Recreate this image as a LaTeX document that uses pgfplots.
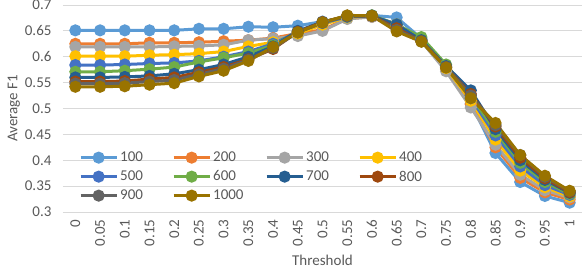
\documentclass[border=0pt]{standalone}
\usepackage{pgfplots}
\pgfplotsset{compat=1.18}
\usepackage{pgfplotstable}
\usepackage{fontspec}
\setmainfont{Carlito}
\definecolor{c100}{HTML}{5B9BD5}
\definecolor{c200}{HTML}{ED7D31}
\definecolor{c300}{HTML}{A5A5A5}
\definecolor{c400}{HTML}{FFC000}
\definecolor{c500}{HTML}{4472C4}
\definecolor{c600}{HTML}{70AD47}
\definecolor{c700}{HTML}{255E91}
\definecolor{c800}{HTML}{9E480E}
\definecolor{c900}{HTML}{636363}
\definecolor{c1000}{HTML}{997300}
\definecolor{txt}{HTML}{595959}
\definecolor{grd}{HTML}{D9D9D9}
\pgfplotstableread{
i  s100  s200  s300  s400  s500  s600  s700  s800  s900  s1000
0  0.651 0.625 0.619 0.601 0.584 0.571 0.560 0.552 0.548 0.542
1  0.651 0.625 0.619 0.601 0.584 0.571 0.560 0.552 0.548 0.542
2  0.651 0.625 0.619 0.601 0.585 0.573 0.561 0.553 0.549 0.543
3  0.651 0.627 0.619 0.603 0.587 0.576 0.563 0.557 0.552 0.546
4  0.651 0.627 0.620 0.604 0.588 0.580 0.567 0.560 0.555 0.549
5  0.654 0.628 0.621 0.606 0.592 0.590 0.575 0.570 0.566 0.562
6  0.654 0.630 0.623 0.610 0.600 0.598 0.585 0.580 0.577 0.573
7  0.658 0.632 0.632 0.620 0.610 0.607 0.600 0.595 0.594 0.592
8  0.657 0.636 0.635 0.628 0.625 0.622 0.620 0.615 0.617 0.619
9  0.660 0.645 0.640 0.645 0.648 0.648 0.650 0.648 0.647 0.647
10 0.668 0.652 0.650 0.662 0.665 0.667 0.667 0.667 0.666 0.666
11 0.676 0.674 0.673 0.676 0.677 0.678 0.678 0.679 0.679 0.680
12 0.680 0.677 0.677 0.679 0.679 0.680 0.679 0.679 0.679 0.679
13 0.676 0.660 0.660 0.663 0.663 0.662 0.662 0.655 0.652 0.649
14 0.635 0.632 0.630 0.632 0.633 0.638 0.632 0.630 0.630 0.629
15 0.578 0.575 0.572 0.578 0.580 0.585 0.582 0.580 0.580 0.579
16 0.510 0.508 0.502 0.515 0.520 0.525 0.535 0.528 0.525 0.520
17 0.414 0.425 0.430 0.440 0.448 0.455 0.460 0.465 0.468 0.472
18 0.358 0.366 0.372 0.380 0.388 0.395 0.400 0.405 0.410 0.410
19 0.331 0.338 0.342 0.348 0.352 0.358 0.362 0.365 0.368 0.370
20 0.318 0.324 0.328 0.330 0.333 0.335 0.337 0.338 0.340 0.341
}\data
\begin{document}
\begin{tikzpicture}[x=1pt,y=1pt]
\begin{axis}[
  name=ax,
  scale only axis,
  width=519pt, height=207pt,
  xmin=-0.5, xmax=20.5,
  ymin=0.3, ymax=0.7,
  xtick={0,...,20},
  xticklabels={0,0.05,0.1,0.15,0.2,0.25,0.3,0.35,0.4,0.45,0.5,0.55,0.6,0.65,0.7,0.75,0.8,0.85,0.9,0.95,1},
  ytick={0.3,0.35,0.4,0.45,0.5,0.55,0.6,0.65,0.7},
  yticklabels={0.3,0.35,0.4,0.45,0.5,0.55,0.6,0.65,0.7},
  xticklabel style={rotate=90, anchor=east, font=\fontsize{15}{15}\selectfont, text=txt, xshift=-4pt},
  yticklabel style={font=\fontsize{15}{15}\selectfont, text=txt, xshift=-8pt},
  major tick length=0pt,
  ymajorgrids,
  grid style={grd, line width=1pt},
  axis line style={draw=none},
  axis x line*=bottom,
  axis y line*=left,
  xlabel={Threshold},
  ylabel={Average F1},
  xlabel style={yshift=-2pt},
  ylabel style={yshift=-2pt},
  label style={font=\fontsize{15}{15}\selectfont, text=txt},
  every axis plot/.append style={line width=3pt, mark=*, mark size=4.5pt, mark options={solid}},
  legend columns=4,
  legend style={draw=none, fill=none, at={(0.025,0.31)}, anchor=north west,
    font=\fontsize{15}{15}\selectfont, text=txt,
    /tikz/every even column/.append style={column sep=0pt},
    row sep=3.5pt},
  legend image code/.code={\draw[mark repeat=2, mark phase=2] plot coordinates {(0pt,0pt) (18pt,0pt) (36pt,0pt)};},
  clip=false,
]
\addplot[c100] table[x=i,y=s100]{\data};
\addplot[c200] table[x=i,y=s200]{\data};
\addplot[c300] table[x=i,y=s300]{\data};
\addplot[c400] table[x=i,y=s400]{\data};
\addplot[c500] table[x=i,y=s500]{\data};
\addplot[c600] table[x=i,y=s600]{\data};
\addplot[c700] table[x=i,y=s700]{\data};
\addplot[c800] table[x=i,y=s800]{\data};
\addplot[c900] table[x=i,y=s900]{\data};
\addplot[c1000] table[x=i,y=s1000]{\data};
\legend{\makebox[50pt][l]{100},\makebox[50pt][l]{200},\makebox[50pt][l]{300},\makebox[50pt][l]{400},\makebox[50pt][l]{500},\makebox[50pt][l]{600},\makebox[50pt][l]{700},\makebox[50pt][l]{800},\makebox[50pt][l]{900},\makebox[50pt][l]{1000}}
\end{axis}
\pgfresetboundingbox
\path ([xshift=-63pt,yshift=-58pt]ax.south west) rectangle ([yshift=5pt]ax.north east);
\end{tikzpicture}
\end{document}
